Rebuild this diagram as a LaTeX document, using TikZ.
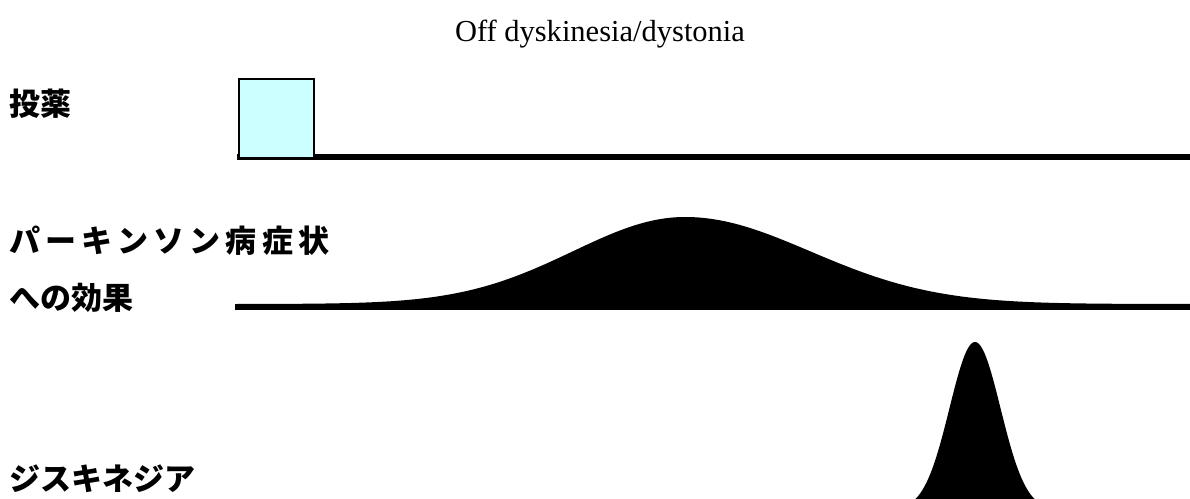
\documentclass[tikz,border=0pt]{standalone}
\usepackage{fontspec}
\setmainfont{Liberation Serif}
\newfontfamily\jpfont{Noto Sans CJK JP}
\newfontfamily\jpspaced{Noto Sans CJK JP}[LetterSpace=17]
\definecolor{boxcyan}{HTML}{CCFFFF}
\begin{document}
\begin{tikzpicture}[x=1pt,y=-1pt,
  label/.style={anchor=west,inner sep=0pt,font=\jpfont\bfseries\fontsize{31}{31}\selectfont,text height=0.88em,text depth=0.12em},
  axis/.style={line width=6pt},
  curvefill/.style={fill=black}]
\useasboundingbox (0,0) rectangle (1190,498);
\clip (0,0) rectangle (1190,498);
% title
\node[font=\fontsize{30.5}{30.5}\selectfont,anchor=base] (title) at (600,41) {Off dyskinesia/dystonia};
% labels
\node[label] (l1) at (9,112) {投薬};
\node[label,font=\jpspaced\bfseries\fontsize{31}{31}\selectfont] (l2) at (9,249) {パーキンソン病症状};
\node[label] (l3) at (9,306) {への効果};
\node[label] (l4) at (9,487) {ジスキネジア};
% row 1: dose
\draw[axis] (237,157) -- (1190,157);
\node[draw,line width=2pt,fill=boxcyan,minimum width=75pt,minimum height=79pt,inner sep=0pt,anchor=north west] (dose) at (238,78) {};
% row 2: effect
\fill[curvefill] (237,307)
  -- plot[domain=237:685,samples=120] (\x,{304-87*exp(-(((\x-685)/112)^2)/2)})
  -- plot[domain=685:1190,samples=120] (\x,{304-87*exp(-(((\x-685)/125)^2)/2)})
  -- (1190,307) -- cycle;
\draw[axis] (235,307) -- (1190,307);
% row 3: dyskinesia
\fill[curvefill] (880,515)
  -- plot[domain=880:1070,samples=140] (\x,{510-168*exp(-(((\x-975)/25.5)^2)/2)})
  -- (1070,515) -- cycle;
\end{tikzpicture}
\end{document}
